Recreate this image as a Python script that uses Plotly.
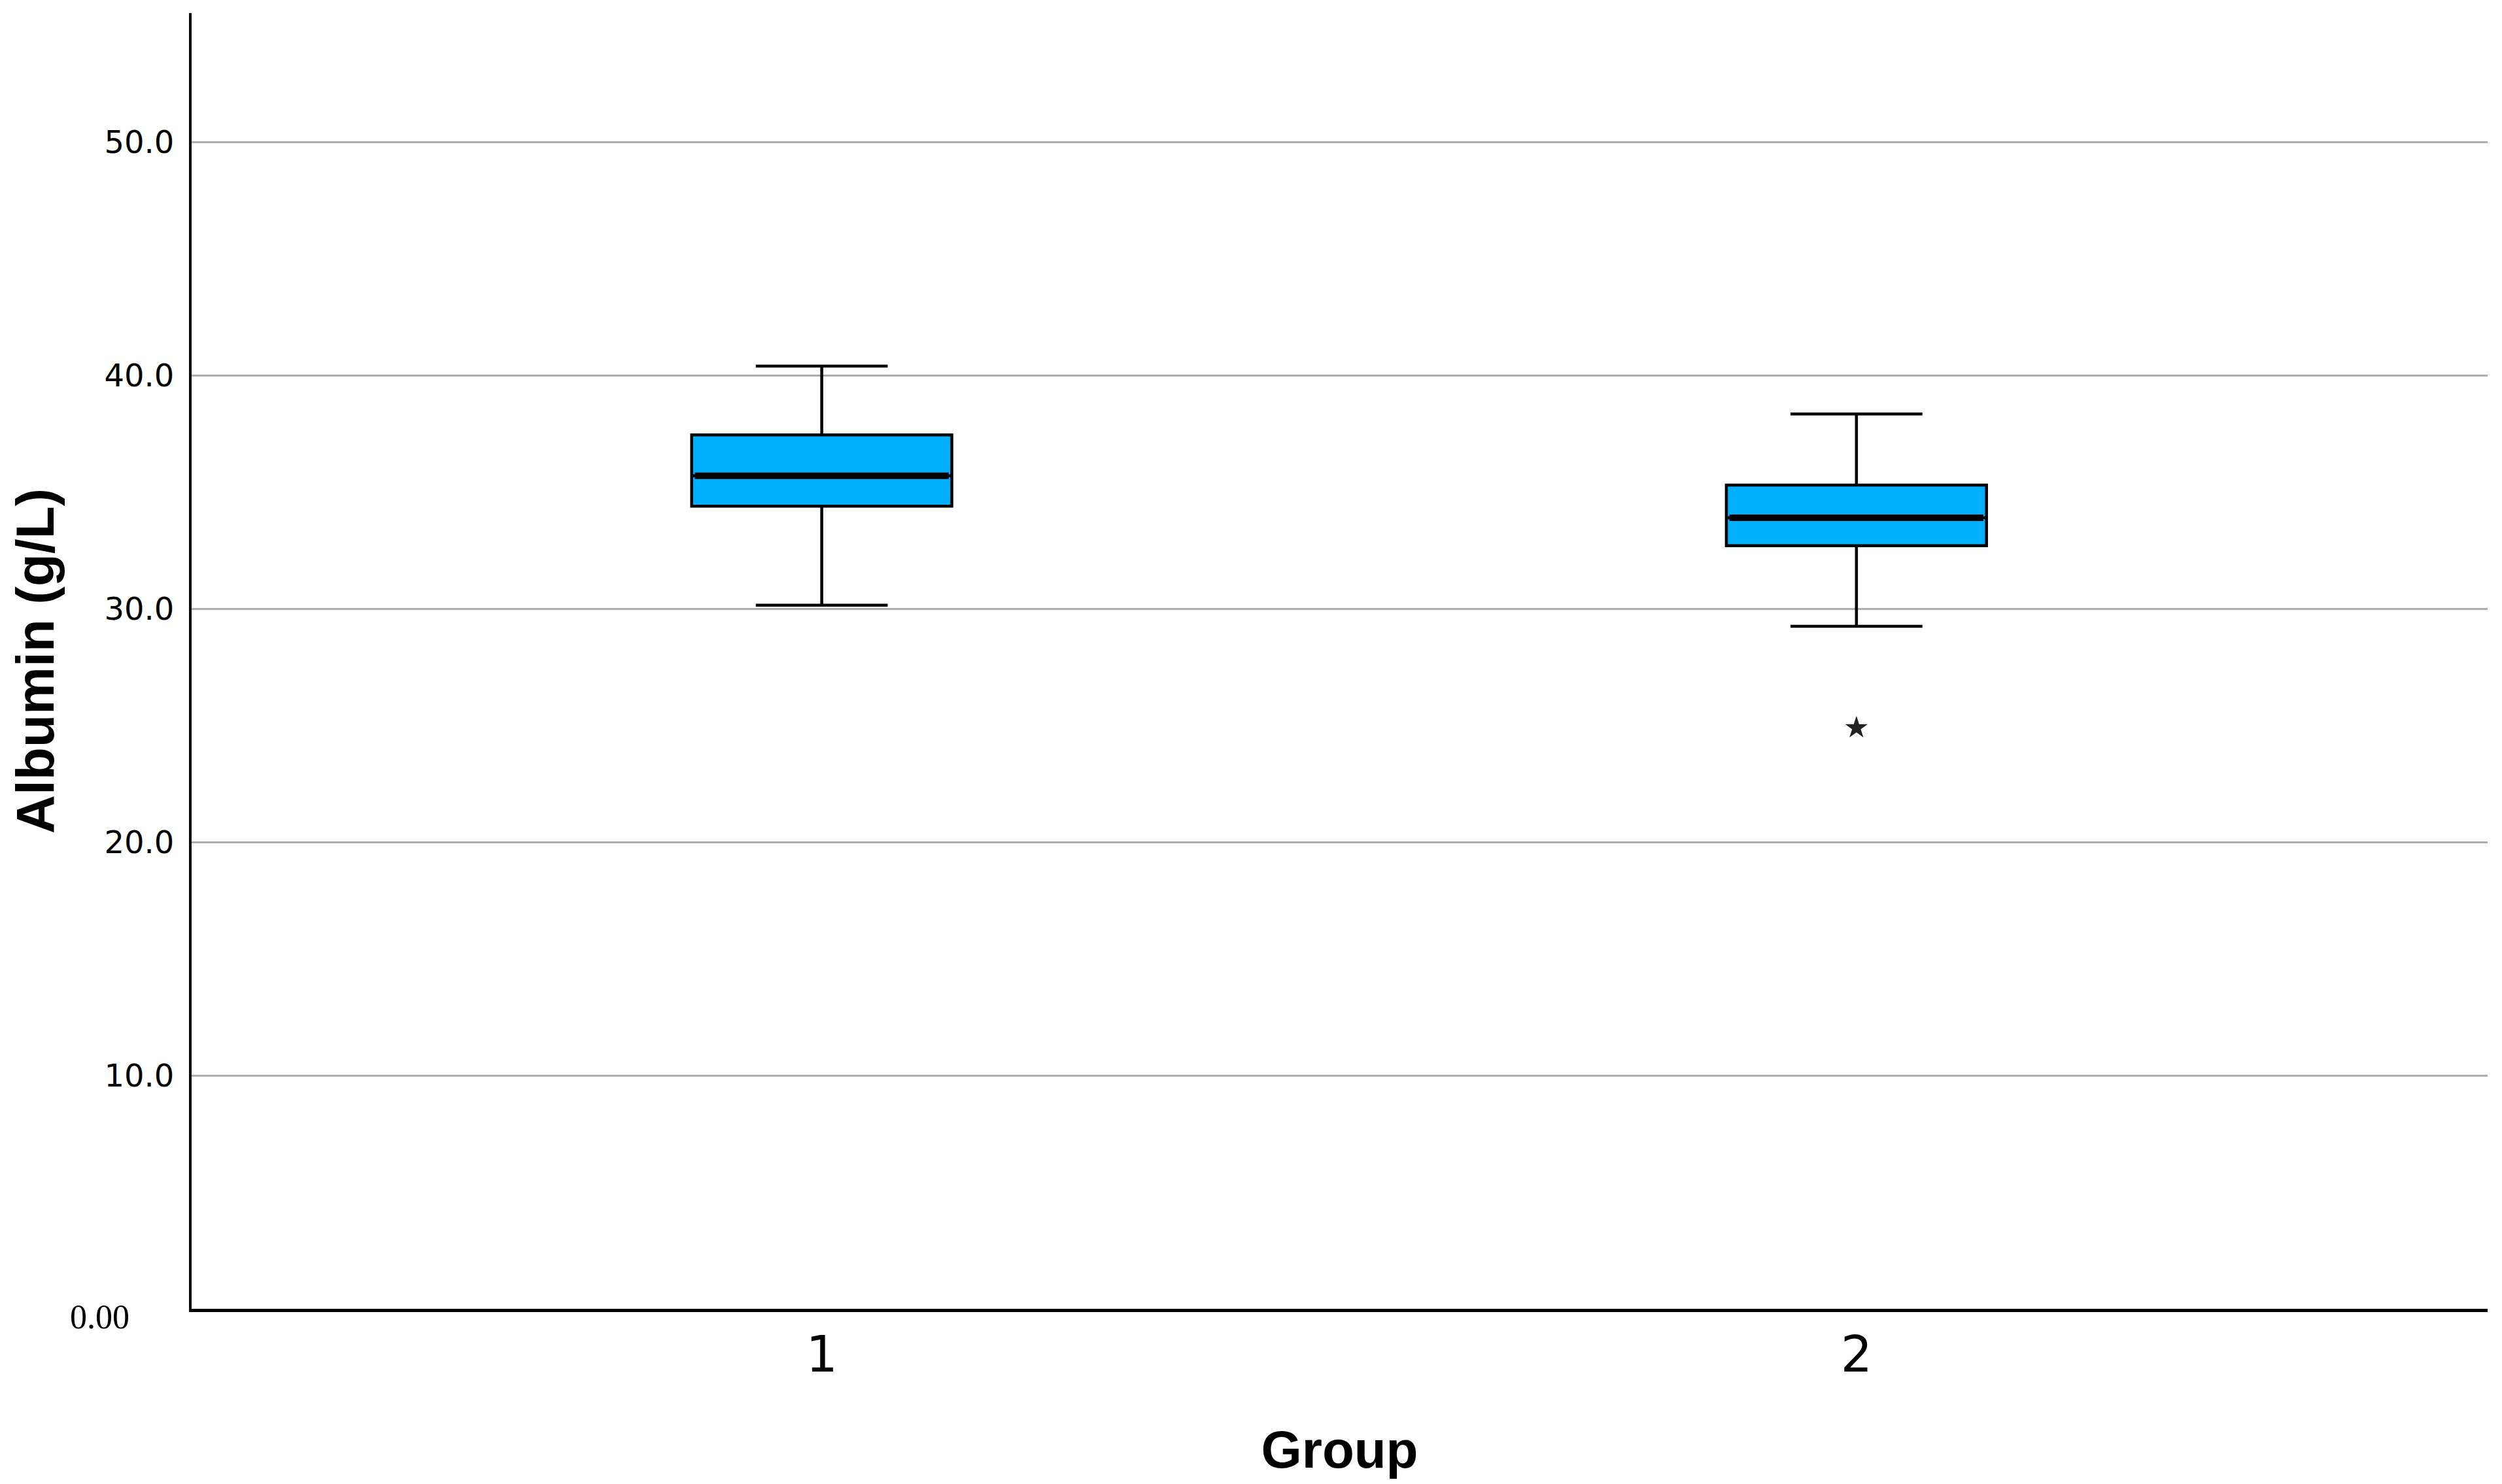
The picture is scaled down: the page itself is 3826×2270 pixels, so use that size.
import plotly.graph_objects as go

# ---- data ----
groups = [1, 2]
group_labels = ["1", "2"]
q1_vals = [34.4, 32.7]
median_vals = [35.7, 33.9]
q3_vals = [37.45, 35.3]
lower_whisker = [30.15, 29.25]
upper_whisker = [40.4, 38.35]
outlier_groups = [2]
outlier_vals = [24.9]
y_tick_vals = [10, 20, 30, 40, 50]

BOX_WIDTH = 0.2514
FILL = "#00B0FF"

fig = go.Figure()

for g, q1, med, q3, lo, hi in zip(groups, q1_vals, median_vals, q3_vals,
                                   lower_whisker, upper_whisker):
    fig.add_trace(go.Box(
        x=[g], q1=[q1], median=[med], q3=[q3],
        lowerfence=[lo], upperfence=[hi],
        width=BOX_WIDTH, whiskerwidth=0.507,
        fillcolor=FILL,
        line=dict(color="black", width=4.5),
        boxpoints=False, showlegend=False, hoverinfo="skip",
    ))
    # thicker median line, as in the reference
    fig.add_trace(go.Scatter(
        x=[g - BOX_WIDTH / 2 + 0.003, g + BOX_WIDTH / 2 - 0.003], y=[med, med],
        mode="lines", line=dict(color="black", width=10),
        showlegend=False, hoverinfo="skip",
    ))

fig.add_trace(go.Scatter(
    x=outlier_groups, y=outlier_vals, mode="markers",
    marker=dict(symbol="star", size=26, color="#222222"),
    showlegend=False, hoverinfo="skip",
))

# the page adds an 8px body margin, so the figure is 16px smaller than the window
fig.update_layout(
    width=3810, height=2254,
    margin=dict(l=285, r=14, t=12, b=260),
    paper_bgcolor="white", plot_bgcolor="white",
    font=dict(family="DejaVu Sans", color="black"),
)

fig.update_xaxes(
    range=[0.391, 2.610],
    tickmode="array", tickvals=groups, ticktext=group_labels,
    tickfont=dict(family="DejaVu Sans", size=76, color="black"),
    ticks="", ticklabelstandoff=0,
    showgrid=False, zeroline=False,
    showline=True, linecolor="black", linewidth=5,
    title=dict(text="<b>Group</b>", font=dict(family="Liberation Sans", size=80, color="black"), standoff=76),
)

fig.update_yaxes(
    range=[0, 55.53],
    tickmode="array", tickvals=y_tick_vals, tickformat=".1f",
    tickfont=dict(family="DejaVu Sans", size=48, color="black"),
    ticks="", ticklabelstandoff=13,
    showgrid=True, gridcolor="#adadad", gridwidth=3,
    zeroline=False,
    showline=True, linecolor="black", linewidth=4,
    title=dict(text="<b>Albumin (g/L)</b>", font=dict(family="Liberation Sans", size=82, color="black"), standoff=78),
)

fig.add_annotation(
    text="0.00", xref="paper", x=0, xanchor="right", xshift=-93,
    yref="y", y=0, yanchor="middle", yshift=-12,
    showarrow=False, font=dict(family="Liberation Serif", size=52, color="black"),
)

fig.write_html("out.html")
